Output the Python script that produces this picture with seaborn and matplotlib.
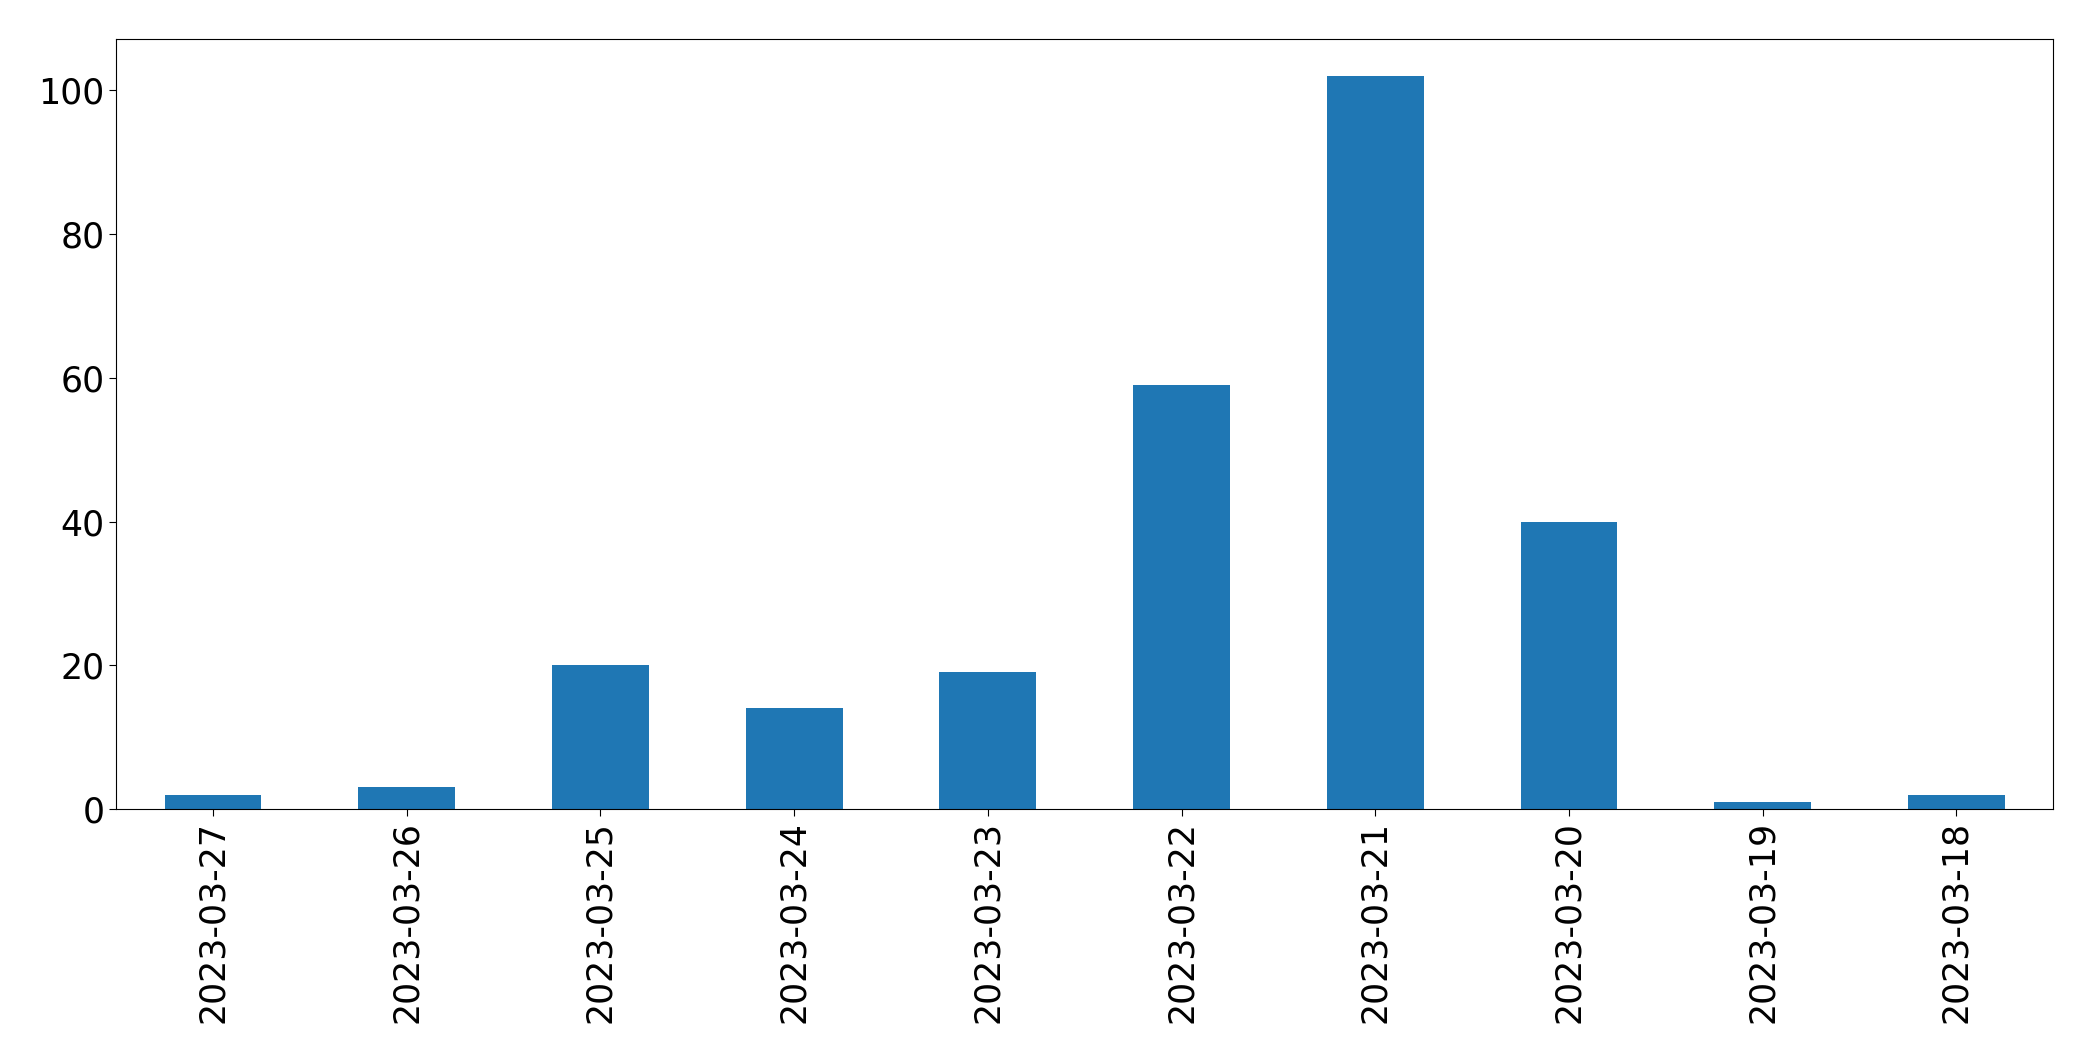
import seaborn as sns
import pandas as pd
import matplotlib.pyplot as plt

dates = ['2023-03-27', '2023-03-26', '2023-03-25', '2023-03-24', '2023-03-23',
         '2023-03-22', '2023-03-21', '2023-03-20', '2023-03-19', '2023-03-18']
counts = [2, 3, 20, 14, 19, 59, 102, 40, 1, 2]

df = pd.DataFrame({'date': dates, 'count': counts})

fig, ax = plt.subplots(figsize=(20.93, 10.61), dpi=100)
sns.barplot(data=df, x='date', y='count', color='#1f77b4', saturation=1,
            width=0.5, ax=ax)
ax.set_xlabel('')
ax.set_ylabel('')
ax.set_xlim(-0.5, len(dates) - 0.5)
ax.set_ylim(0, 107.1)
ax.tick_params(axis='both', labelsize=25, length=5)
plt.setp(ax.get_xticklabels(), rotation=90)
plt.subplots_adjust(left=0.0555, right=0.981, top=0.963, bottom=0.2375)
plt.savefig('out.png', dpi=100)
